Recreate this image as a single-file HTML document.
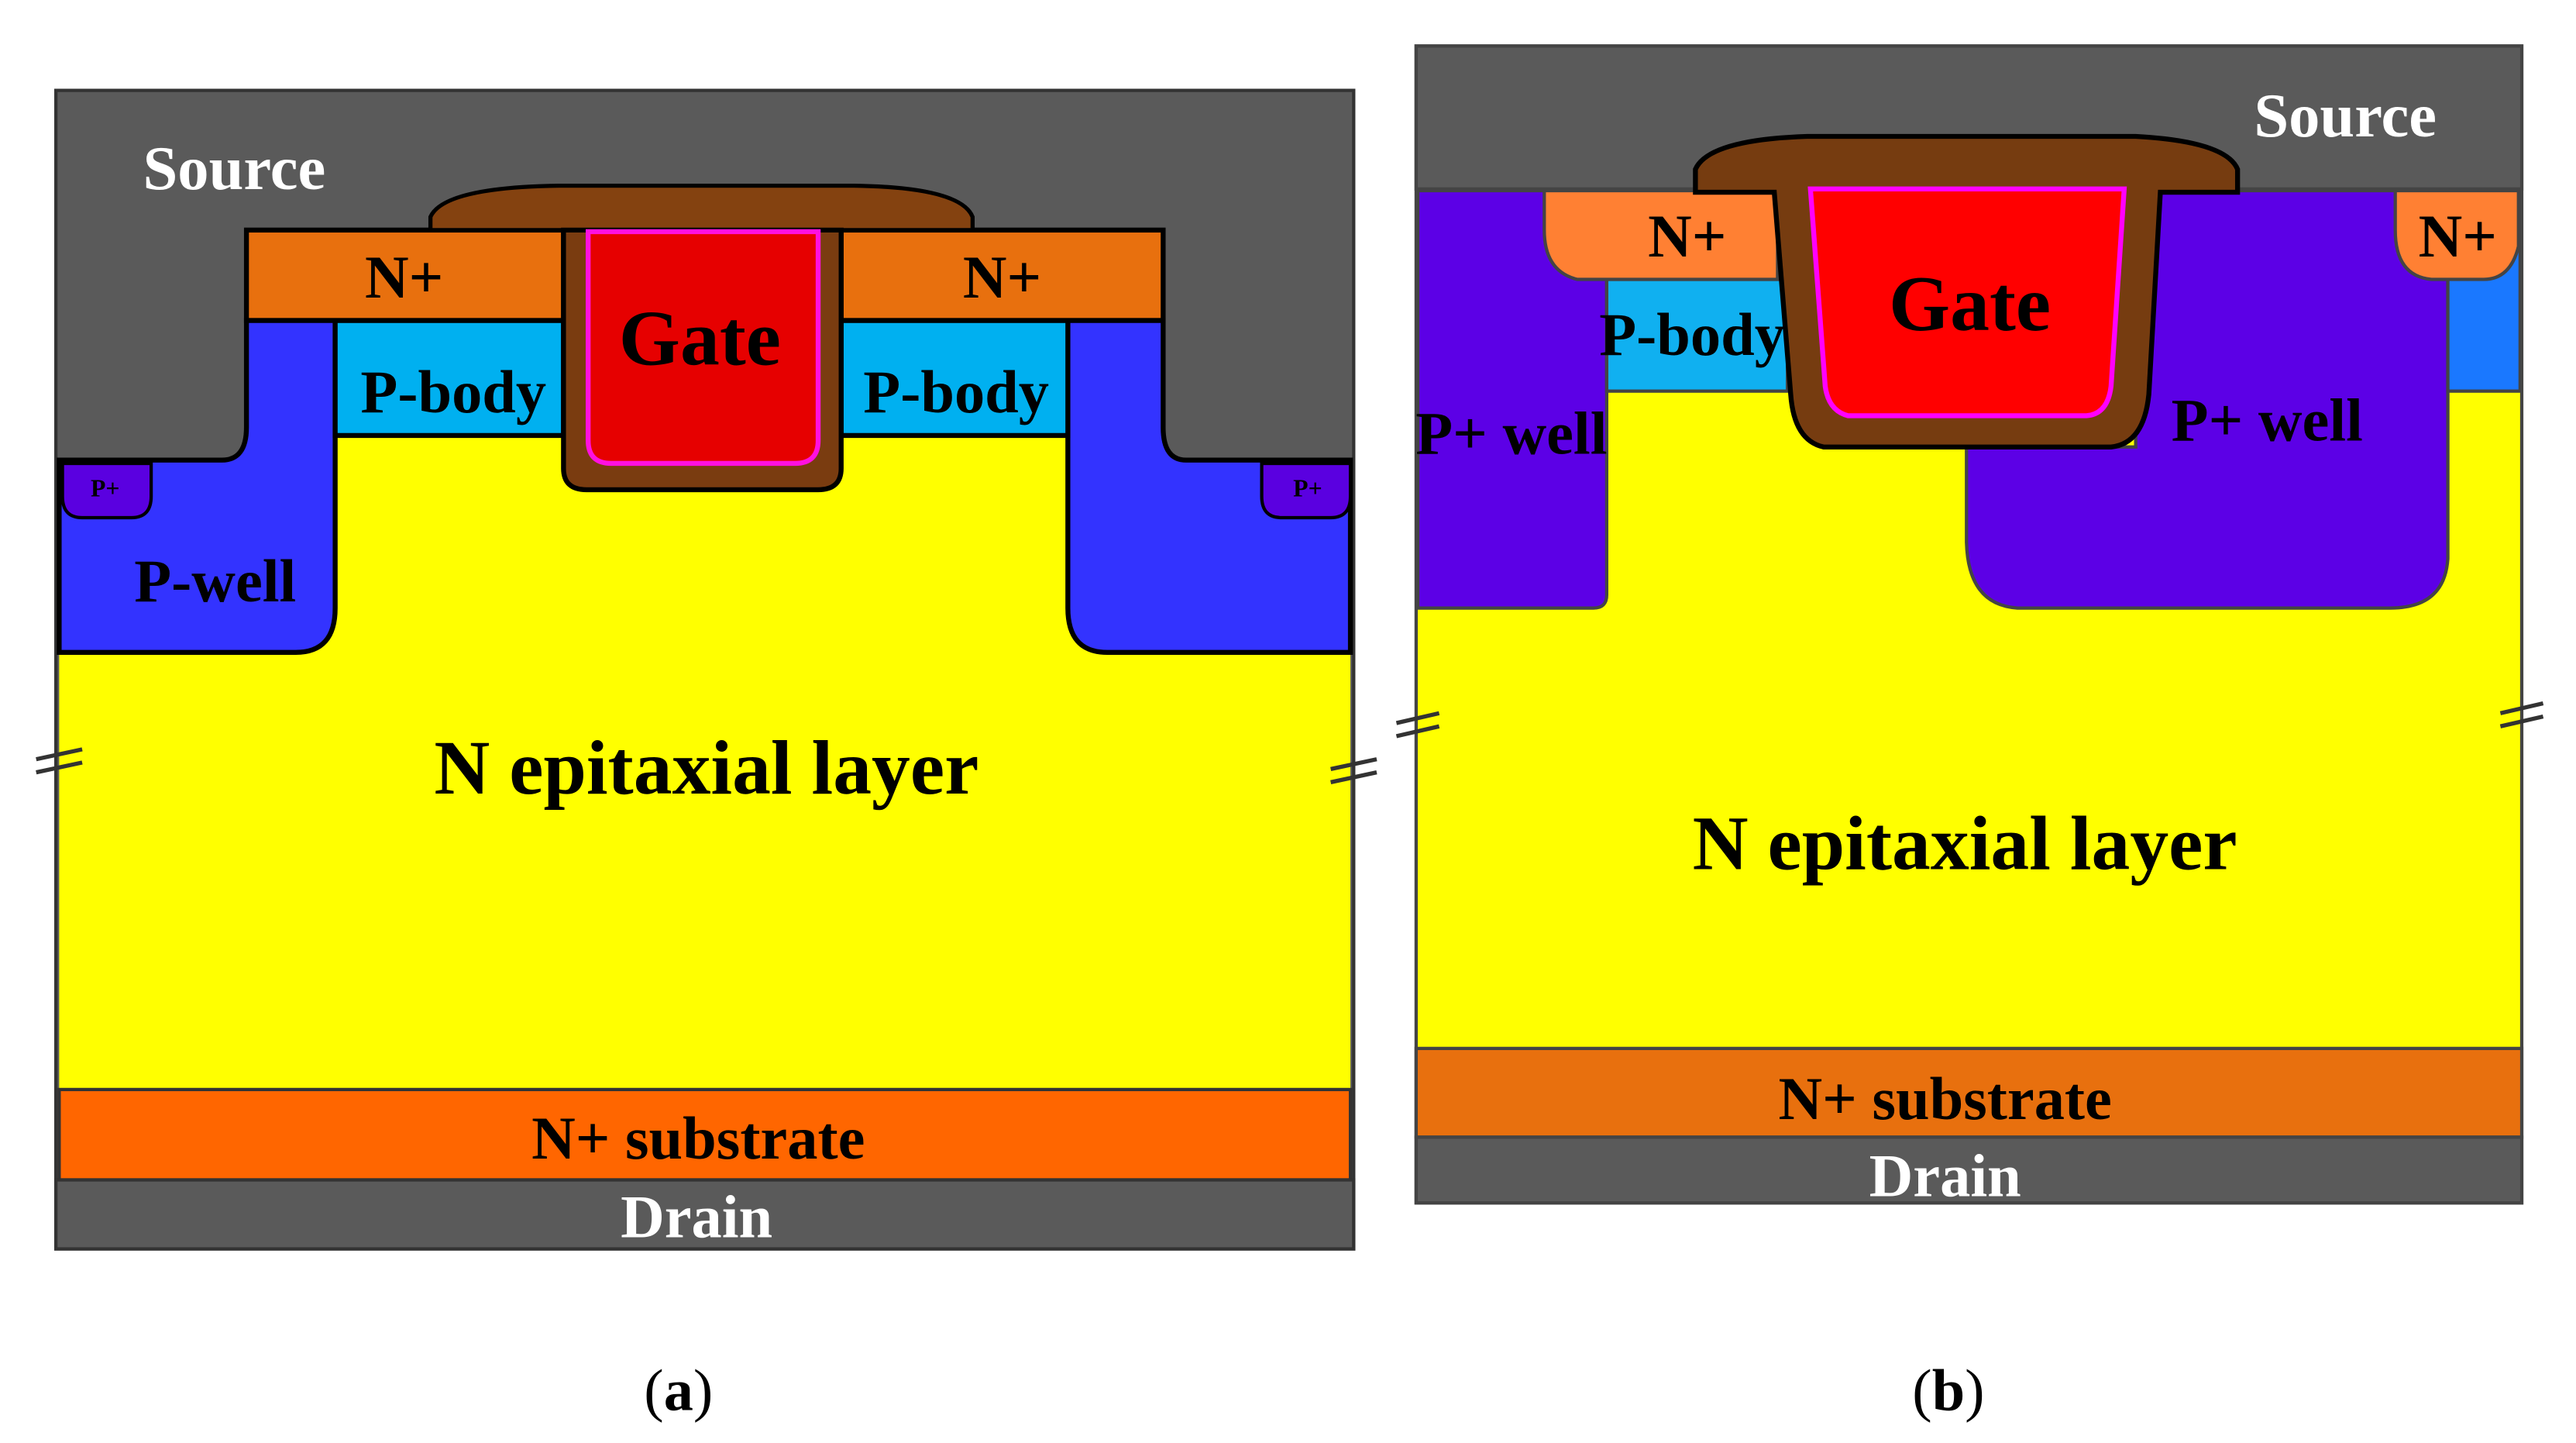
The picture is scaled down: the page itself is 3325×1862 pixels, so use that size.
<!DOCTYPE html>
<html><head><meta charset="utf-8"><style>html,body{margin:0;padding:0;background:#fff}svg{display:block}</style></head><body>
<svg width="3325" height="1862" viewBox="0 0 1568 878.1" xmlns="http://www.w3.org/2000/svg" font-family="Liberation Serif, serif" font-weight="bold">
<!-- Panel a -->
<rect x="34" y="55" width="790" height="705" fill="#5a5a5a" stroke="#333" stroke-width="2"/>
<rect x="36" y="368" width="786" height="295" fill="#ffff00"/>
<rect x="36" y="663" width="786" height="55" fill="#ff6600" stroke="#333" stroke-width="2"/>
<rect x="34" y="718" width="790" height="42" fill="#5a5a5a" stroke="#333" stroke-width="2"/>
<rect x="204" y="265" width="446" height="135" fill="#ffff00"/>
<path d="M150,195 L204,195 L204,370 Q204,397 180,397 L36,397 L36,280 L135,280 Q150,280 150,260 Z" fill="#3333ff" stroke="#000" stroke-width="3"/>
<path d="M708,195 L650,195 L650,370 Q650,397 674,397 L822,397 L822,280 L722,280 Q708,280 708,260 Z" fill="#3333ff" stroke="#000" stroke-width="3"/>
<path d="M38,282 L92,282 L92,302 Q92,315 80,315 L50,315 Q38,315 38,302 Z" fill="#5a00e0" stroke="#000" stroke-width="2"/>
<path d="M768,282 L822,282 L822,302 Q822,315 810,315 L780,315 Q768,315 768,302 Z" fill="#5a00e0" stroke="#000" stroke-width="2"/>
<rect x="204" y="195" width="139" height="70" fill="#00b0f0" stroke="#000" stroke-width="3"/>
<rect x="512" y="195" width="138" height="70" fill="#00b0f0" stroke="#000" stroke-width="3"/>
<rect x="150" y="140" width="193" height="55" fill="#e8700e" stroke="#000" stroke-width="3"/>
<rect x="512" y="140" width="196" height="55" fill="#e8700e" stroke="#000" stroke-width="3"/>
<path d="M262,140 L262,132 Q270,114 340,113 L520,113 Q585,114 592,132 L592,140 Z" fill="#844210" stroke="#000" stroke-width="2.5"/>
<path d="M343,140 L512,140 L512,285 Q512,298 498,298 L357,298 Q343,298 343,285 Z" fill="#7a3c10" stroke="#000" stroke-width="3"/>
<path d="M358,141 L498,141 L498,268 Q498,282 484,282 L372,282 Q358,282 358,268 Z" fill="#e60000" stroke="#ff10e0" stroke-width="3"/>
<g stroke="#333" stroke-width="2.5"><line x1="22" y1="462" x2="50" y2="456"/><line x1="22" y1="470" x2="50" y2="464"/><line x1="810" y1="468" x2="838" y2="462"/><line x1="810" y1="476" x2="838" y2="470"/></g>
<text x="87" y="115" fill="#fff" font-size="38">Source</text>
<g font-size="37" fill="#000" text-anchor="middle">
<text x="246" y="181">N+</text><text x="610" y="181">N+</text>
<text x="276" y="251">P-body</text><text x="582" y="251">P-body</text>
<text x="131" y="366">P-well</text>
<text x="425" y="705">N+ substrate</text>
<text x="424" y="753" fill="#fff">Drain</text>
</g>
<text x="426" y="222" font-size="48" text-anchor="middle">Gate</text>
<text x="430" y="483" font-size="47" text-anchor="middle">N epitaxial layer</text>
<text x="64" y="302" font-size="15" text-anchor="middle">P+</text>
<text x="796" y="302" font-size="15" text-anchor="middle">P+</text>
<text x="413" y="858" font-size="36" text-anchor="middle" font-weight="normal">(<tspan font-weight="bold">a</tspan>)</text>

<!-- Panel b -->
<rect x="862" y="28" width="673" height="704" fill="#ffff00" stroke="#444" stroke-width="2"/>
<rect x="862" y="28" width="673" height="87" fill="#5a5a5a" stroke="#444" stroke-width="2"/>
<rect x="862" y="638" width="673" height="54" fill="#e8700e" stroke="#444" stroke-width="2"/>
<rect x="862" y="692" width="673" height="40" fill="#5a5a5a" stroke="#444" stroke-width="2"/>
<path d="M863,116 L978,116 L978,362 Q978,370 970,370 L863,370 Z" fill="#5c00e6" stroke="#444" stroke-width="2"/>
<rect x="978" y="170" width="110" height="68" fill="#10b0f0" stroke="#444" stroke-width="2"/>
<path d="M1300,116 L1490,116 L1490,340 Q1488,370 1455,370 L1228,370 Q1198,368 1197,330 L1197,272 L1300,272 Z" fill="#5c00e6" stroke="#444" stroke-width="2"/>
<rect x="1490" y="116" width="44" height="122" fill="#1a78ff" stroke="#444" stroke-width="2"/>
<path d="M940,116 L1082,116 L1082,170 L960,170 Q940,165 940,140 Z" fill="#ff8033" stroke="#444" stroke-width="2"/>
<path d="M1458,116 L1533,116 L1533,150 Q1528,170 1512,170 L1480,170 Q1458,168 1458,140 Z" fill="#ff8033" stroke="#444" stroke-width="2"/>
<path d="M1032,117 L1032,103 Q1040,85 1100,83 L1300,83 Q1355,86 1362,103 L1362,117 L1315,117 L1308,240 Q1305,270 1285,272 L1110,272 Q1092,268 1090,240 L1080,117 Z" fill="#763c10" stroke="#000" stroke-width="3"/>
<path d="M1102,115 L1293,115 L1285,235 Q1283,252 1270,253 L1125,253 Q1113,250 1111,235 Z" fill="#ff0000" stroke="#ff00ff" stroke-width="3"/>
<g stroke="#333" stroke-width="2.5"><line x1="850" y1="440" x2="876" y2="434"/><line x1="850" y1="448" x2="876" y2="442"/><line x1="1522" y1="434" x2="1548" y2="428"/><line x1="1522" y1="442" x2="1548" y2="436"/></g>
<text x="1372" y="83" font-size="38" fill="#fff">Source</text>
<g font-size="37" fill="#000" text-anchor="middle">
<text x="1027" y="156">N+</text><text x="1496" y="156">N+</text>
<text x="1030" y="216">P-body</text>
<text x="920" y="276">P+ well</text>
<text x="1380" y="268">P+ well</text>
<text x="1184" y="681">N+ substrate</text>
<text x="1184" y="728" fill="#fff">Drain</text>
</g>
<text x="1199" y="201" font-size="48" text-anchor="middle">Gate</text>
<text x="1196" y="529" font-size="47" text-anchor="middle">N epitaxial layer</text>
<text x="1186" y="858" font-size="36" text-anchor="middle" font-weight="normal">(<tspan font-weight="bold">b</tspan>)</text>
</svg>
</body></html>
